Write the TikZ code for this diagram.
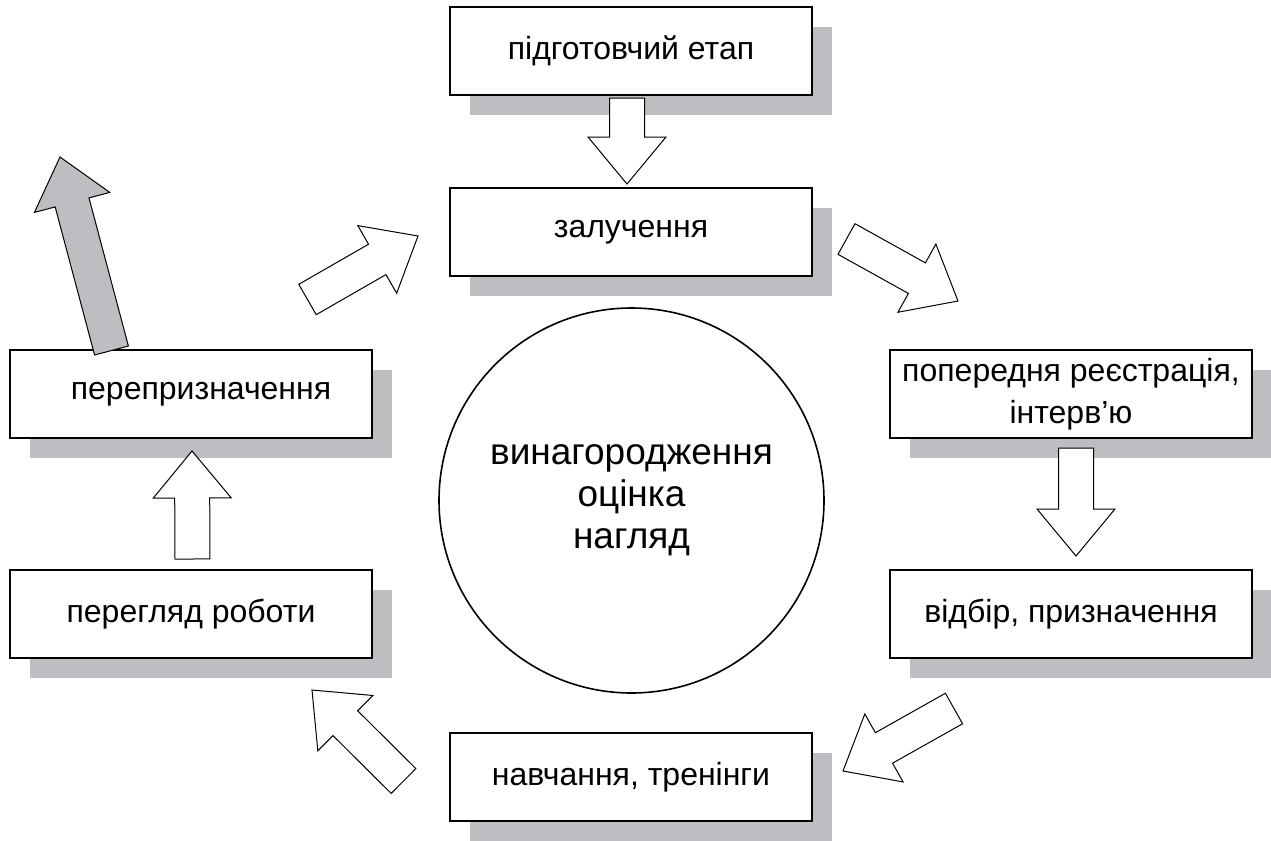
\documentclass[tikz,border=0pt]{standalone}
\usepackage{fontspec}
\setmainfont{Liberation Sans}
\usetikzlibrary{calc,shadows}

\definecolor{shadowgray}{RGB}{188,190,193}

\tikzset{
  stage/.style={draw, line width=1pt, fill=white, minimum width=181pt, minimum height=44pt,
    inner sep=0pt, align=center, font=\fontsize{16}{21}\selectfont,
    drop shadow={shadow xshift=10pt, shadow yshift=-10pt, fill=shadowgray, opacity=1}},
  hub/.style={draw, circle, line width=0.8pt, minimum size=192.5pt, inner sep=0pt,
    align=center, font=\fontsize{18.5}{21}\selectfont},
  arrowline/.style={draw, line width=0.5pt, line join=miter}
}

% hollow block arrow from #2 (tail) to #3 (tip)
\newcommand\fatarrow[3][white]{%
  \coordinate (hb) at ($(#3)!23.5pt!(#2)$);
  \draw[arrowline, fill=#1]
    ($(#2)!8.75pt!90:(#3)$) -- ($(hb)!8.75pt!90:(#3)$) -- ($(hb)!19.5pt!90:(#3)$) -- (#3)
    -- ($(hb)!19.5pt!-90:(#3)$) -- ($(hb)!8.75pt!-90:(#3)$) -- ($(#2)!8.75pt!-90:(#3)$) -- cycle;}

\begin{document}
\begin{tikzpicture}[x=0.5pt, y=-0.5pt]
  \useasboundingbox (0,0) rectangle (1271,841);

  \node[stage] (prep) at (631,51) {підготовчий етап};
  \node[stage] (zal) at (631,232) {залучення};
  \node[stage] (reg) at (1071,394) {попередня реєстрація,\\інтерв’ю};
  \node[stage] (vid) at (1071,614) {відбір, призначення};
  \node[stage] (nav) at (631,777) {навчання, тренінги};
  \node[stage] (per) at (191,614) {перегляд роботи};
  \node[stage] (repr) at (191,394) {\hspace*{10pt}перепризначення};
  \node[hub] (hub) at (631.5,500.5) {винагородження\\оцінка\\нагляд};

  \coordinate (t1) at ($(prep.south)+(-4,2)$);
  \coordinate (h1) at ($(zal.north)+(-4,-3)$);
  \coordinate (t2) at ($(zal.east)+(33.5,7)$);
  \coordinate (h2) at ($(reg.north)+(-113,-48)$);
  \coordinate (t3) at ($(reg.south)+(5,9)$);
  \coordinate (h3) at ($(vid.north)+(5,-13)$);
  \coordinate (t4) at ($(vid.south)+(-117,49.5)$);
  \coordinate (h4) at ($(nav.east)+(30,-6)$);
  \coordinate (t5) at ($(nav.west)+(-45.5,4)$);
  \coordinate (h5) at ($(per.south)+(121,31)$);
  \coordinate (t6) at ($(per.north)+(1.5,-10)$);
  \coordinate (h6) at ($(repr.south)+(1,12)$);
  \coordinate (t7) at ($(repr.north)+(116.5,-49.5)$);
  \coordinate (h7) at ($(zal.west)+(-31,4)$);

  \foreach \a/\b in {t1/h1, t2/h2, t3/h3, t4/h4, t5/h5, t6/h6, t7/h7} {
    \fatarrow{\a}{\b}
  }

  % way out of the cycle
  \coordinate (t8) at ($(repr.north)+(-79.5,1.5)$);
  \coordinate (out) at ($(repr.north)+(-131,-192)$);
  \fatarrow[shadowgray]{t8}{out}

\end{tikzpicture}
\end{document}
